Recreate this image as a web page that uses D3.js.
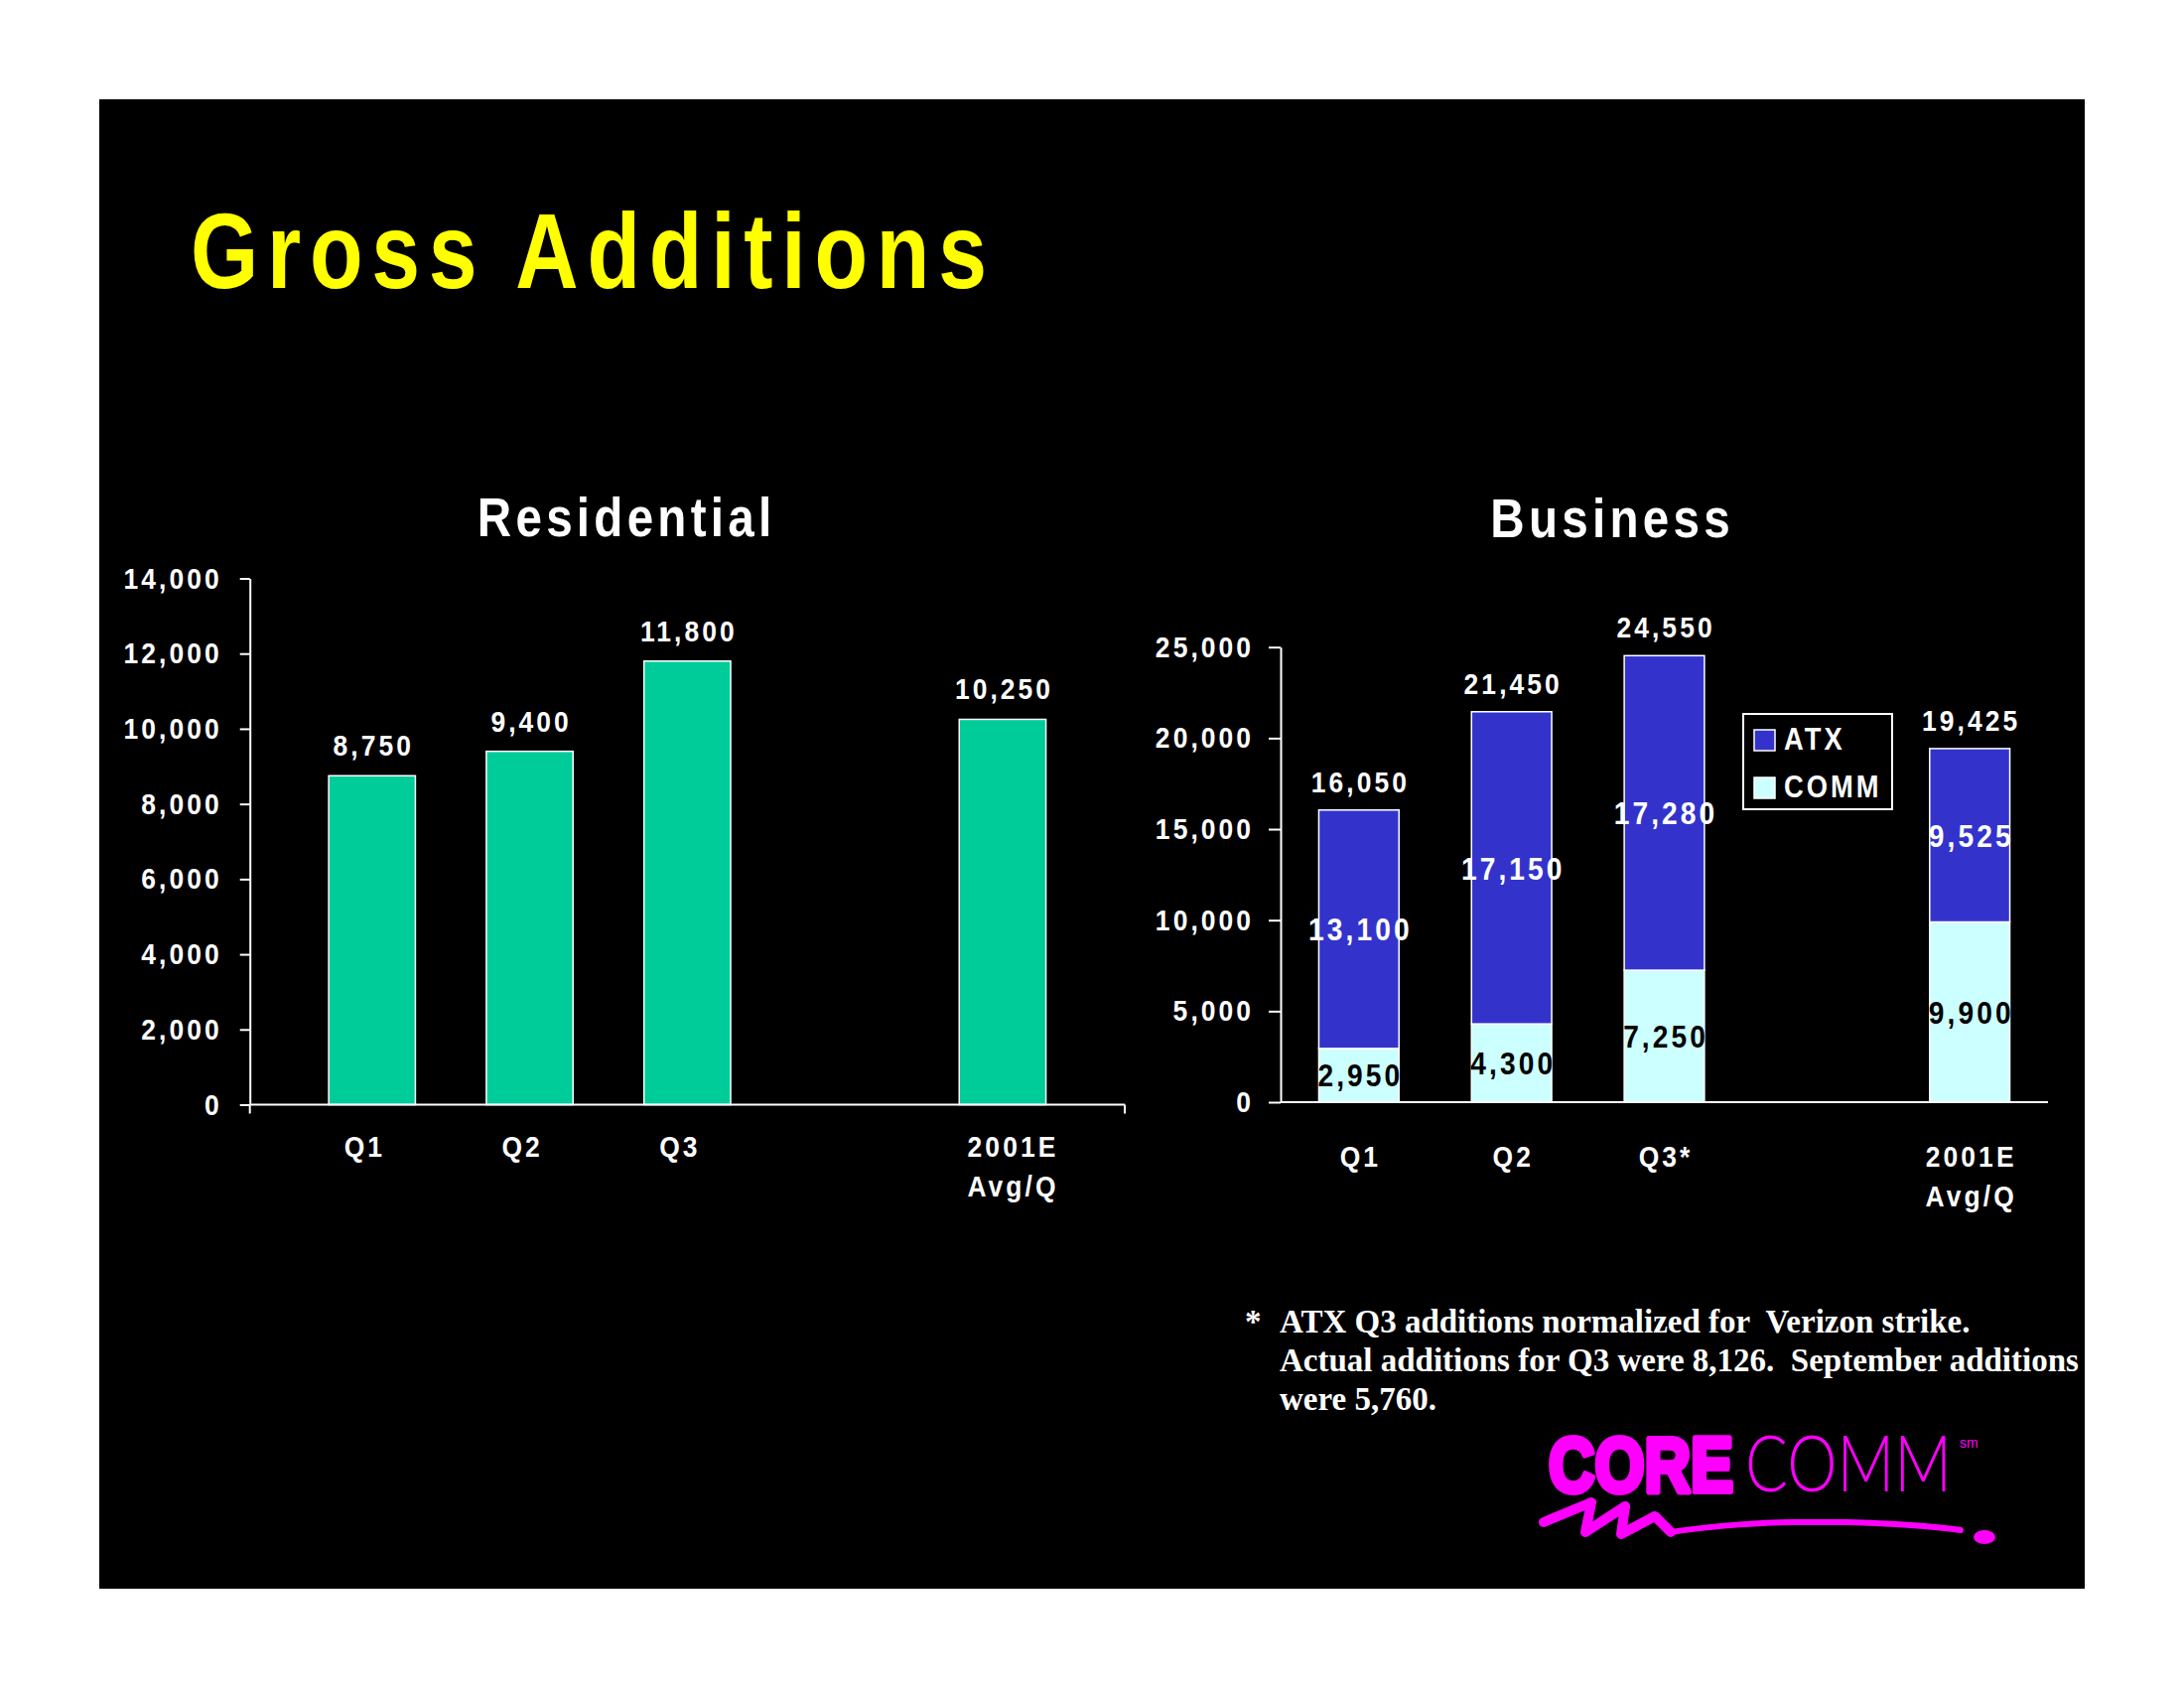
<!DOCTYPE html>
<html><head><meta charset="utf-8">
<script src="https://cdn.jsdelivr.net/npm/d3@7"></script>
<style>html,body{margin:0;padding:0;background:#fff;} svg{display:block;}</style>
</head><body>
<script>
// ---------- DATA ----------
const resCategories = ["Q1", "Q2", "Q3", "2001E\nAvg/Q"];
const resValues = [8750, 9400, 11800, 10250];
const resTicks = [0, 2000, 4000, 6000, 8000, 10000, 12000, 14000];

const busCategories = ["Q1", "Q2", "Q3*", "2001E\nAvg/Q"];
const commValues = [2950, 4300, 7250, 9900];
const atxValues = [13100, 17150, 17280, 9525];
const busTotals = [16050, 21450, 24550, 19425];
const busTicks = [0, 5000, 10000, 15000, 20000, 25000];
const seriesNames = ["ATX", "COMM"];

const footnoteLines = [
  "ATX Q3 additions normalized for  Verizon strike.",
  "Actual additions for Q3 were 8,126.  September additions",
  "were 5,760."
];

// ---------- SETUP ----------
const W = 2200, H = 1700;
const SANS = "'Liberation Sans', Arial, Helvetica, sans-serif";
const SERIF = "'Liberation Serif', 'Times New Roman', serif";
const fmt = d3.format(",");
const colors = { ATX: "#3333CC", COMM: "#CCFFFF", RES: "#00CC99" };
const SX = 0.88;      // horizontal condensing of label glyphs
const LS = 3.5;       // letter spacing (pre-scale)

const svg = d3.select("body").append("svg").attr("width", W).attr("height", H);
svg.append("rect").attr("width", W).attr("height", H).attr("fill", "#fff");
svg.append("rect").attr("x", 100).attr("y", 100).attr("width", 2000).attr("height", 1500).attr("fill", "#000");

function ctext(sel, size, fill) {
  return sel.attr("font-family", SANS).attr("font-weight", "bold").attr("font-size", size)
    .attr("letter-spacing", LS + "px").attr("fill", fill || "#fff");
}

// Main title
svg.append("text")
  .attr("transform", "translate(192,290) scale(0.82,1)")
  .attr("font-family", SANS).attr("font-weight", "bold").attr("font-size", 107)
  .attr("letter-spacing", "10.7px").attr("fill", "#FFFF00")
  .text("Gross Additions");

function styleAxis(g, tickLen, pad) {
  g.select(".domain").attr("stroke", "#fff").attr("stroke-width", 2);
  g.selectAll(".tick line").attr("stroke", "#fff").attr("stroke-width", 2);
  const t = g.selectAll(".tick text");
  ctext(t, 30);
  t.attr("transform", `scale(${SX},1)`).attr("x", -(tickLen + pad) / SX + LS);
}

function chartTitle(g, x, y, str) {
  g.append("text").attr("transform", `translate(${x},${y}) scale(0.85,1)`)
    .attr("text-anchor", "middle").attr("dx", 2.5)
    .attr("fill", "#fff").attr("font-family", SANS).attr("font-weight", "bold")
    .attr("font-size", 56).attr("letter-spacing", "5px").text(str);
}

function catLabels(g, x, cats, baseY, shiftFn) {
  cats.forEach((c, i) => {
    const lines = c.split("\n");
    const cx = x(c) + x.bandwidth() / 2 + shiftFn(lines);
    lines.forEach((ln, k) => {
      ctext(g.append("text"), 30)
        .attr("transform", `translate(${cx},${baseY + k * 40}) scale(${SX},1)`)
        .attr("text-anchor", "middle").attr("dx", LS / 2)
        .text(ln);
    });
  });
}

// ---------- RESIDENTIAL ----------
const gR = svg.append("g");
const resDomain = resCategories.slice(0, 3).concat(["__gap__"], resCategories.slice(3));
const resX = d3.scaleBand().domain(resDomain).range([251.7, 1133]).paddingInner(0.45).paddingOuter(0.5);
const resY = d3.scaleLinear().domain([0, 14000]).range([1112.5, 582.5]);

chartTitle(gR, 629, 540, "Residential");

gR.selectAll("rect.bar").data(resValues).join("rect").attr("class", "bar")
  .attr("x", (d, i) => resX(resCategories[i]))
  .attr("y", d => resY(d))
  .attr("width", resX.bandwidth())
  .attr("height", d => resY(0) - resY(d))
  .attr("fill", colors.RES).attr("stroke", "#fff").attr("stroke-width", 1.5);

gR.append("g").attr("transform", `translate(${resX.range()[0]},0)`)
  .call(d3.axisLeft(resY).tickValues(resTicks).tickFormat(fmt).tickSizeInner(10).tickSizeOuter(0).tickPadding(21))
  .call(g => styleAxis(g, 10, 21));

gR.append("line").attr("x1", resX.range()[0]).attr("x2", resX.range()[1])
  .attr("y1", resY(0)).attr("y2", resY(0)).attr("stroke", "#fff").attr("stroke-width", 2);
resX.range().forEach(xv => {
  gR.append("line").attr("x1", xv).attr("x2", xv).attr("y1", resY(0)).attr("y2", resY(0) + 9)
    .attr("stroke", "#fff").attr("stroke-width", 2);
});

ctext(gR.selectAll("text.val").data(resValues).join("text").attr("class", "val"), 30)
  .attr("transform", (d, i) => `translate(${resX(resCategories[i]) + resX.bandwidth() / 2},${resY(d) - 20}) scale(${SX},1)`)
  .attr("text-anchor", "middle").attr("dx", LS / 2)
  .text(d => fmt(d));

catLabels(gR, resX, resCategories, 1165, lines => (lines.length > 1 ? 9 : -9));

// ---------- BUSINESS ----------
const gB = svg.append("g");
const busDomain = busCategories.slice(0, 3).concat(["__gap__"], busCategories.slice(3));
const busX = d3.scaleBand().domain(busDomain).range([1290, 2063]).paddingInner(0.475).paddingOuter(0.25);
const busY = d3.scaleLinear().domain([0, 25000]).range([1110, 651.7]);

chartTitle(gB, 1622, 541, "Business");

const rows = busCategories.map((c, i) => ({ cat: c, COMM: commValues[i], ATX: atxValues[i] }));
const stacked = d3.stack().keys(["COMM", "ATX"])(rows);

stacked.forEach(layer => {
  const key = layer.key;
  gB.selectAll(`rect.s-${key}`).data(layer).join("rect").attr("class", `s-${key}`)
    .attr("x", d => busX(d.data.cat))
    .attr("y", d => busY(d[1]))
    .attr("width", busX.bandwidth())
    .attr("height", d => busY(d[0]) - busY(d[1]))
    .attr("fill", colors[key]).attr("stroke", "#fff").attr("stroke-width", 1.5);
});

gB.append("g").attr("transform", `translate(${busX.range()[0]},0)`)
  .call(d3.axisLeft(busY).tickValues(busTicks).tickFormat(fmt).tickSizeInner(12).tickSizeOuter(0).tickPadding(18))
  .call(g => styleAxis(g, 12, 18));

gB.append("line").attr("x1", busX.range()[0]).attr("x2", busX.range()[1])
  .attr("y1", busY(0)).attr("y2", busY(0)).attr("stroke", "#fff").attr("stroke-width", 2);

stacked.forEach(layer => {
  const key = layer.key;
  ctext(gB.selectAll(`text.l-${key}`).data(layer).join("text").attr("class", `l-${key}`), 32,
        key === "ATX" ? "#fff" : "#000")
    .attr("transform", d => `translate(${busX(d.data.cat) + busX.bandwidth() / 2},${(busY(d[0]) + busY(d[1])) / 2}) scale(${SX},1)`)
    .attr("dy", "0.36em")
    .attr("text-anchor", "middle").attr("dx", LS / 2)
    .text(d => fmt(d.data[key]));
});

ctext(gB.selectAll("text.tot").data(busTotals).join("text").attr("class", "tot"), 30)
  .attr("transform", (d, i) => `translate(${busX(busCategories[i]) + busX.bandwidth() / 2},${busY(commValues[i] + atxValues[i]) - 18}) scale(${SX},1)`)
  .attr("text-anchor", "middle").attr("dx", LS / 2)
  .text(d => fmt(d));

catLabels(gB, busX, busCategories, 1175, () => 0);

const lg = gB.append("g").attr("transform", "translate(1756,719)");
lg.append("rect").attr("width", 150).attr("height", 96).attr("fill", "#000")
  .attr("stroke", "#fff").attr("stroke-width", 2);
seriesNames.forEach((s, i) => {
  lg.append("rect").attr("x", 11).attr("y", 16 + i * 48).attr("width", 21).attr("height", 21)
    .attr("fill", colors[s]).attr("stroke", "#fff").attr("stroke-width", 1.5);
  ctext(lg.append("text"), 31)
    .attr("transform", `translate(41,${36 + i * 48}) scale(${SX},1)`)
    .text(s);
});

// ---------- FOOTNOTE ----------
const fn = svg.append("g").attr("font-family", SERIF).attr("font-weight", "bold")
  .attr("font-size", 33).attr("fill", "#fff");
fn.append("text").attr("x", 1254).attr("y", 1342).text("*");
footnoteLines.forEach((ln, i) => {
  fn.append("text").attr("x", 1289).attr("y", 1342 + i * 39)
    .style("white-space", "pre").text(ln);
});

// ---------- LOGO ----------
const logo = svg.append("g").attr("fill", "#FF00FF");
function fitText(sel, x, y, targetW) {
  const len = sel.node().getComputedTextLength() || targetW;
  sel.attr("transform", `translate(${x},${y}) scale(${targetW / len},1)`);
  return sel;
}
fitText(logo.append("text").attr("font-family", SANS)
  .attr("font-weight", "bold").attr("font-size", 78)
  .attr("stroke", "#FF00FF").attr("stroke-width", 6).attr("stroke-linejoin", "round")
  .text("CORE"), 1560, 1502, 186);
fitText(logo.append("text").attr("font-family", "Lato, " + SANS)
  .attr("font-weight", 300).attr("font-size", 78)
  .text("COMM"), 1758, 1502, 208);
logo.append("text").attr("x", 1974).attr("y", 1458).attr("font-family", SANS)
  .attr("font-size", 14).text("sm");
logo.append("path")
  .attr("d", "M1555,1533 L1603,1513 L1597,1543 L1637,1517 L1633,1545 L1667,1527 L1683,1543")
  .attr("fill", "none").attr("stroke", "#FF00FF").attr("stroke-width", 10)
  .attr("stroke-linecap", "round").attr("stroke-linejoin", "round");
logo.append("path")
  .attr("d", "M1683,1543 C1730,1536 1780,1533 1807,1533 L1860,1533 C1900,1534 1940,1536 1975,1541")
  .attr("fill", "none").attr("stroke", "#FF00FF").attr("stroke-width", 6)
  .attr("stroke-linecap", "round");
logo.append("ellipse").attr("cx", 1999).attr("cy", 1548).attr("rx", 11).attr("ry", 7);
</script>
</body></html>
